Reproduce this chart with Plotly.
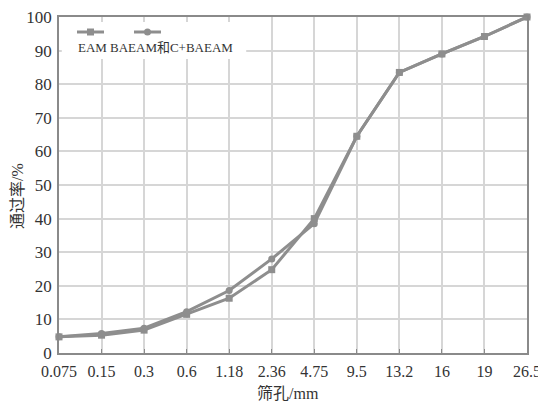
import plotly.graph_objects as go

sieve = ["0.075", "0.15", "0.3", "0.6", "1.18", "2.36", "4.75", "9.5", "13.2", "16", "19", "26.5"]
eam = [4.8, 5.3, 6.8, 11.5, 16.3, 24.8, 40.0, 64.5, 83.5, 89.0, 94.2, 100.0]
baeam = [4.8, 5.8, 7.4, 12.3, 18.6, 28.0, 38.5, 64.5, 83.5, 89.0, 94.2, 100.0]
names = ["EAM", "BAEAM和C+BAEAM"]
yticks = list(range(0, 101, 10))
x_title = "筛孔/mm"
y_title = "通过率/%"

line_col = "#8e8e8e"
axis_col = "#8a8a8a"
grid_col = "#d6d6d6"
font_fam = "Liberation Serif, Noto Sans CJK SC, serif"

fig = go.Figure()
fig.add_trace(go.Scatter(x=sieve, y=eam, name=names[0], mode="lines+markers",
                         line=dict(color=line_col, width=3),
                         marker=dict(symbol="square", size=7, color=line_col),
                         cliponaxis=False, showlegend=False))
fig.add_trace(go.Scatter(x=sieve, y=baeam, name=names[1], mode="lines+markers",
                         line=dict(color=line_col, width=3),
                         marker=dict(symbol="circle", size=7, color=line_col),
                         cliponaxis=False, showlegend=False))

# custom legend (symbols above the text)
fig.add_shape(type="rect", xref="paper", yref="paper", x0=0.006, x1=0.40, y0=0.875, y1=0.985,
              fillcolor="white", line=dict(width=0), layer="above")
for i, (xa, xb, sym) in enumerate([(77, 104, "square"), (134, 161, "circle")]):
    x0 = (xa - 59) / 468
    x1 = (xb - 59) / 468
    yl = (353 - 32) / 336
    fig.add_shape(type="line", xref="paper", yref="paper", x0=x0, x1=x1, y0=yl, y1=yl,
                  line=dict(color=line_col, width=3), layer="above")
    xm = (x0 + x1) / 2
    dx = 3.5 / 468
    dy = 3.5 / 336
    fig.add_shape(type="rect" if sym == "square" else "circle", xref="paper", yref="paper",
                  x0=xm - dx, x1=xm + dx, y0=yl - dy, y1=yl + dy,
                  fillcolor=line_col, line=dict(width=0), layer="above")
fig.add_annotation(xref="paper", yref="paper", x=(77 - 59) / 468, y=(353 - 47) / 336,
                   text=names[0], showarrow=False, xanchor="left", yanchor="middle",
                   borderpad=0, font=dict(family=font_fam, size=13, color="#333"))
fig.add_annotation(xref="paper", yref="paper", x=(109 - 59) / 468, y=(353 - 47) / 336,
                   text=names[1], showarrow=False, xanchor="left", yanchor="middle",
                   borderpad=0, font=dict(family=font_fam, size=13, color="#333"))

# axis titles
fig.add_annotation(xref="paper", yref="paper", x=(288 - 59) / 468, y=(353 - 393) / 336,
                   text=x_title, showarrow=False, xanchor="center", yanchor="middle",
                   font=dict(family=font_fam, size=16, color="#333"))
fig.add_annotation(xref="paper", yref="paper", x=(17 - 59) / 468, y=(353 - 196) / 336,
                   text=y_title, showarrow=False, xanchor="center", yanchor="middle",
                   textangle=-90, font=dict(family=font_fam, size=16, color="#333"))

fig.update_layout(
    width=538, height=403,
    margin=dict(l=59, r=11, t=17, b=50),
    paper_bgcolor="white", plot_bgcolor="white",
    font=dict(family=font_fam, size=15, color="#333"),
    xaxis=dict(type="category", range=[0, 11], showgrid=True, gridcolor=grid_col, gridwidth=1.5,
               showline=True, linecolor=axis_col, linewidth=1.5, mirror=True,
               ticks="inside", ticklen=4, tickcolor=axis_col, ticklabelstandoff=3,
               tickfont=dict(size=16), zeroline=False, automargin=False),
    yaxis=dict(range=[0, 100], tickvals=yticks, showgrid=True, gridcolor=grid_col, gridwidth=1.5,
               showline=True, linecolor=axis_col, linewidth=1.5, mirror=True,
               ticks="", tickfont=dict(size=17), zeroline=False, ticklabelstandoff=2,
               automargin=False),
)

fig.write_html("out.html")
